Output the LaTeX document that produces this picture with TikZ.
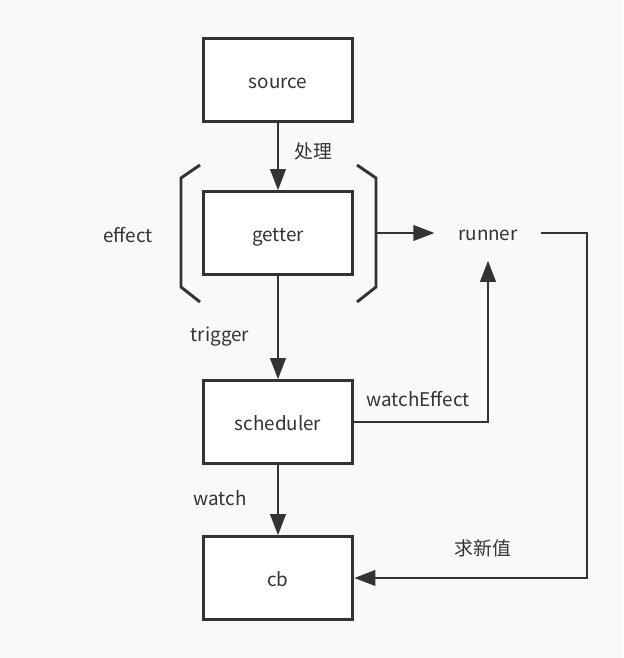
\documentclass[tikz,border=0pt]{standalone}
\usepackage{fontspec}
\setmainfont{Noto Sans CJK SC}
\usetikzlibrary{arrows.meta}
\definecolor{bgcol}{HTML}{F9F9F9}
\definecolor{inkcol}{HTML}{333333}

\begin{document}
\begin{tikzpicture}[x=0.85pt, y=-0.85pt,
  stage/.style={rectangle, draw=inkcol, fill=white, line width=2.5pt, minimum width=127pt, minimum height=70pt, text height=15pt, text depth=0pt, text=inkcol, font=\fontsize{16}{19}\selectfont},
  lbl/.style={text=inkcol, font=\fontsize{16}{19}\selectfont},
  link/.style={draw=inkcol, line width=2.5pt, -{Triangle[length=18pt, width=13pt]}},
  wire/.style={draw=inkcol, line width=2.5pt}]
  \fill[bgcol] (0,0) rectangle (623,658);
  \node[stage] (source) at (278,80) {source};
  \node[stage] (getter) at (278,233) {getter};
  \node[stage] (scheduler) at (278,422) {scheduler};
  \node[stage] (cb) at (278,578) {cb};
  \node[lbl, inner xsep=20pt, inner ysep=17pt] (runner) at (488,235) {runner};
  % effect brackets
  \draw[wire] (200,165) -- (181,178) -- (181,287) -- (200,302);
  \draw[wire] (357,165) -- (376,178) -- (376,287) -- (357,302);
  \coordinate (rb) at (376,233);
  \coordinate (turn) at (587,0);
  \draw[link] (source) -- (getter);
  \draw[link] (getter) -- (scheduler);
  \draw[link] (scheduler) -- (cb);
  \draw[link] (rb) -- (rb -| runner.west);
  \draw[link] (scheduler.east) -| (runner.south);
  \draw[link] (runner.east |- rb) -- (rb -| turn) -- (cb.east -| turn) -- (cb.east);
  \node[lbl] (lblproc) at (313,151) {处理};
  \node[lbl] (lbleffect) at (128,235) {effect};
  \node[lbl] (lbltrigger) at (220,337) {trigger};
  \node[lbl] (lblwatcheffect) at (418,399) {watchEffect};
  \node[lbl] (lblwatch) at (220,498) {watch};
  \node[lbl] (lblnew) at (483,548) {求新值};
\end{tikzpicture}
\end{document}
